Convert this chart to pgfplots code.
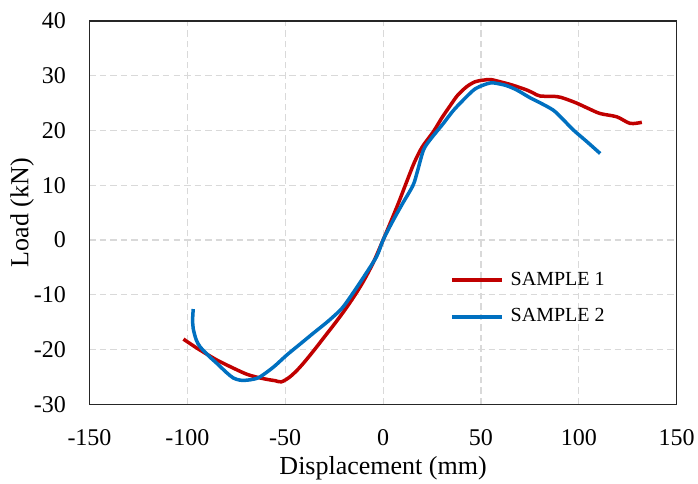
\documentclass[border=0pt]{standalone}
\usepackage{fontspec}
\setmainfont{Liberation Serif}
\usepackage{pgfplots}
\pgfplotsset{compat=1.18}
\definecolor{sone}{HTML}{C00000}
\definecolor{stwo}{HTML}{0070C0}
\definecolor{gridc}{HTML}{D9D9D9}
\begin{document}
\begin{tikzpicture}
\begin{axis}[
 scale only axis, width=587.2bp, height=383.3bp,
 xmin=-150,xmax=150,ymin=-30,ymax=40,
 xtick distance=50, ytick distance=10,
 major tick length=0pt,
 /pgf/number format/assume math mode=true,
 ticklabel style={font=\fontsize{24bp}{28bp}\selectfont, inner sep=0pt},
 xticklabel style={anchor=north, yshift=-25bp},
 yticklabel style={anchor=east, xshift=-23.5bp},
 grid=major,
 major grid style={gridc, line width=1.1bp, dash pattern=on 6.5bp off 4bp},
 axis line style={black!85, line width=1.2bp},
 xlabel={Displacement (mm)}, ylabel={Load (kN)},
 every axis x label/.style={at={(axis description cs:0.5,0)}, anchor=base, yshift=-69.7bp, font=\fontsize{26bp}{30bp}\selectfont},
 every axis y label/.style={at={(axis description cs:0,0.5)}, xshift=-61.2bp, rotate=90, anchor=base, font=\fontsize{26bp}{30bp}\selectfont},
 legend style={draw=none, fill=none, at={(0.614,0.348)}, anchor=north west, inner sep=0pt,
   font=\fontsize{20bp}{24bp}\selectfont, nodes={inner sep=0pt, text height=14bp, text depth=4bp},
   row sep=18.7bp, column sep=7bp},
 legend cell align=left,
 legend image code/.code={\draw[#1, line width=3.5bp] (0bp,0bp) -- (50bp,0bp);},
]
\addplot[sone, line width=3.5bp, smooth] coordinates {
(-102,-18.1) (-97,-19.3) (-93.5,-20.1) (-85,-21.9) (-76.5,-23.4) (-69.7,-24.5)
(-65,-25.0) (-60,-25.4) (-55,-25.7) (-52,-25.9) (-48,-25.1) (-44,-23.8) (-40,-22.2)
(-35,-20.0) (-30,-17.7) (-25,-15.4) (-20,-13.0) (-15,-10.4) (-10,-7.5) (-5,-4.1) (0,0)
(4,3.4) (8,6.9) (12,10.6) (16,14.2) (20,17.0) (25.7,19.8) (30,22.3) (34.2,24.5) (38,26.4) (42.7,28.0)
(47,28.9) (51.2,29.2) (55,29.3) (59.8,28.9) (66,28.3) (73.4,27.4) (77,26.8) (80.2,26.3)
(88.7,26.2) (93,25.8) (98.9,25.0) (105,24.0) (110.9,23.1) (119.4,22.5) (126.2,21.3) (132.2,21.5)
};
\addlegendentry{SAMPLE 1}
\addplot[stwo, line width=3.5bp, smooth] coordinates {
(-97,-12.6) (-97.3,-14.5) (-97,-16.2) (-95.5,-18.2) (-93.5,-19.5) (-89,-21.2) (-85,-22.5)
(-80,-24.2) (-76.5,-25.2) (-73,-25.6) (-69.7,-25.6) (-66,-25.4) (-62.9,-25.0) (-56,-23.2)
(-49.2,-21.0) (-42.4,-19.0) (-35.6,-17.0) (-28,-14.8) (-21.1,-12.5) (-16,-10) (-10,-6.8)
(-3.3,-3.0) (0,0) (5,3.5) (10,6.7) (15.3,10) (17.5,12.5) (20.6,16.4) (24,18.3) (30.8,21.3)
(36,23.7) (42.7,26.2) (47,27.6) (51.2,28.3) (55,28.7) (58.1,28.6) (63,28.2) (68.3,27.4)
(75,26.0) (80,25.1) (87,23.7) (92,22.0) (97.2,20.1) (104,18.0) (110.9,15.8)
};
\addlegendentry{SAMPLE 2}
\end{axis}
\pgfresetboundingbox
\path[use as bounding box] ([xshift=-89.5bp,yshift=-79.7bp]current axis.south west) rectangle ([xshift=21.3bp,yshift=21bp]current axis.north east);
\end{tikzpicture}
\end{document}
